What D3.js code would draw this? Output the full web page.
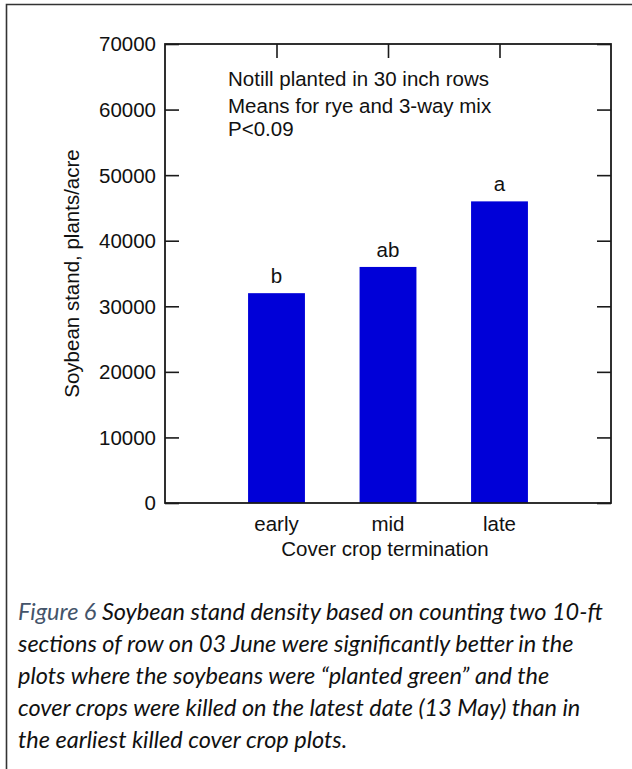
<!DOCTYPE html>
<html>
<head>
<meta charset="utf-8">
<script src="https://cdn.jsdelivr.net/npm/d3@7"></script>
<style>
  html, body { margin: 0; padding: 0; background: #fff; }
  svg { display: block; }
</style>
</head>
<body>
<svg id="chart" width="632" height="769"></svg>
<script>
// Soybean stand by cover crop termination timing
const categories = ["early", "mid", "late"];
const standValues = [32000, 36000, 46000];
const meanLetters = ["b", "ab", "a"];
const yTickValues = [0, 10000, 20000, 30000, 40000, 50000, 60000, 70000];
const noteLines = ["Notill planted in 30 inch rows", "Means for rye and 3-way mix", "P<0.09"];
const captionLines = [
  "Soybean stand density based on counting two 10-ft",
  "sections of row on 03 June were significantly better in the",
  "plots where the soybeans were \u201cplanted green\u201d and the",
  "cover crops were killed on the latest date (13 May) than in",
  "the earliest killed cover crop plots."
];

const svg = d3.select("#chart");
const axisFont = "Arial, 'Liberation Sans', sans-serif";
const axisColor = "#1a1a1a";
const fs = 20.5;

// outer figure frame
svg.append("path")
  .attr("d", "M6.5,769 V4.5 H632")
  .attr("fill", "none").attr("stroke", "#333").attr("stroke-width", 1.6);

const plot = { left: 165, right: 611, top: 44, bottom: 503 };

const x = d3.scaleLinear().domain([0, categories.length + 1]).range([plot.left, plot.right]);
const y = d3.scaleLinear().domain([0, 70000]).range([plot.bottom, plot.top]);
const barW = x(0.51) - x(0);

const tickLen = 14;
const g = svg.append("g");

// inward ticks on all four sides
const catPos = categories.map((c, i) => i + 1);
g.append("g").attr("transform", `translate(${plot.left},0)`)
  .call(d3.axisRight(y).tickValues(yTickValues).tickSize(tickLen).tickFormat(""));
g.append("g").attr("transform", `translate(${plot.right},0)`)
  .call(d3.axisLeft(y).tickValues(yTickValues).tickSize(tickLen).tickFormat(""));
g.append("g").attr("transform", `translate(0,${plot.top})`)
  .call(d3.axisBottom(x).tickValues(catPos).tickSize(tickLen).tickFormat(""));
g.append("g").attr("transform", `translate(0,${plot.bottom})`)
  .call(d3.axisTop(x).tickValues(catPos).tickSize(tickLen).tickFormat(""));
g.selectAll(".domain").remove();
g.selectAll(".tick line").attr("stroke", axisColor).attr("stroke-width", 1.6);

// bars
svg.append("g").selectAll("rect")
  .data(standValues)
  .join("rect")
  .attr("x", (d, i) => x(i + 1) - barW / 2)
  .attr("y", d => y(d))
  .attr("width", barW)
  .attr("height", d => y(0) - y(d))
  .attr("fill", "#0000d8");

// plot frame
svg.append("rect")
  .attr("x", plot.left).attr("y", plot.top)
  .attr("width", plot.right - plot.left).attr("height", plot.bottom - plot.top)
  .attr("fill", "none").attr("stroke", axisColor).attr("stroke-width", 1.8);

// y tick labels
svg.append("g").selectAll("text")
  .data(yTickValues)
  .join("text")
  .attr("x", plot.left - 9)
  .attr("y", d => y(d))
  .attr("dy", "0.36em")
  .attr("text-anchor", "end")
  .attr("font-family", axisFont).attr("font-size", fs).attr("fill", "#111")
  .text(d => d);

// category labels
svg.append("g").selectAll("text")
  .data(categories)
  .join("text")
  .attr("x", (d, i) => x(i + 1))
  .attr("y", 531)
  .attr("text-anchor", "middle")
  .attr("font-family", axisFont).attr("font-size", fs).attr("fill", "#111")
  .text(d => d);

// mean separation letters
svg.append("g").selectAll("text")
  .data(standValues)
  .join("text")
  .attr("x", (d, i) => x(i + 1))
  .attr("y", d => y(d) - 10)
  .attr("text-anchor", "middle")
  .attr("font-family", axisFont).attr("font-size", fs).attr("fill", "#111")
  .text((d, i) => meanLetters[i]);

// axis titles
svg.append("text")
  .attr("x", (plot.left + plot.right) / 2 - 3)
  .attr("y", 556)
  .attr("text-anchor", "middle")
  .attr("font-family", axisFont).attr("font-size", fs).attr("fill", "#111")
  .text("Cover crop termination");

svg.append("text")
  .attr("transform", `translate(79,${(plot.top + plot.bottom) / 2}) rotate(-90)`)
  .attr("text-anchor", "middle")
  .attr("font-family", axisFont).attr("font-size", fs).attr("fill", "#111")
  .text("Soybean stand, plants/acre");

// annotation block
svg.append("g").selectAll("text")
  .data(noteLines)
  .join("text")
  .attr("x", 228)
  .attr("y", (d, i) => [86, 113, 136][i])
  .attr("font-family", axisFont).attr("font-size", fs).attr("fill", "#111")
  .text(d => d);

// caption
const cap = svg.append("g").attr("font-family", "Lato, 'Open Sans', sans-serif")
  .attr("font-style", "italic").attr("font-size", 23.5);
captionLines.forEach((line, i) => {
  const t = cap.append("text").attr("x", 18).attr("y", 620 + i * 32).attr("fill", "#111");
  if (i === 0) {
    t.append("tspan").attr("fill", "#44546a").text("Figure 6 ");
  }
  t.append("tspan").text(line);
});
</script>
</body>
</html>
